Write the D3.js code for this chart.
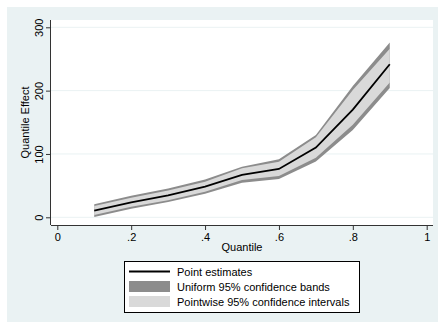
<!DOCTYPE html>
<html><head><meta charset="utf-8">
<script src="https://cdn.jsdelivr.net/npm/d3@7"></script>
<style>html,body{margin:0;padding:0;background:#fff;}svg{display:block;}</style>
</head><body>
<svg id="c" width="438" height="322"></svg>
<script>
const quantiles = [0.1, 0.2, 0.3, 0.4, 0.5, 0.6, 0.7, 0.8, 0.9];
const pointEstimates = [10.4, 23.7, 34.7, 48.3, 67, 76.3, 110, 170, 241.7];
const pointwiseLower = [3.6, 16.5, 27, 40.5, 58.9, 65.2, 94, 146, 213];
const pointwiseUpper = [17.9, 31, 42.5, 56.3, 77.4, 87.8, 126.5, 201, 266];
const uniformLower = [0.5, 13.5, 24, 37, 54.7, 60.5, 88, 138, 204];
const uniformUpper = [20.5, 34, 45.5, 59.5, 80, 91.6, 130, 207.5, 276];
const xTicks = [0, 0.2, 0.4, 0.6, 0.8, 1];
const xTickLabels = ["0", ".2", ".4", ".6", ".8", "1"];
const yTicks = [0, 100, 200, 300];
const legendLabels = ["Point estimates", "Uniform 95% confidence bands", "Pointwise 95% confidence intervals"];

const svg = d3.select("#c");
const font = "Liberation Sans, Arial, sans-serif";
const bg = "#eaf2f3", dark = "#8c8c8c", light = "#d9d9d9";

// graph region
svg.append("rect").attr("x", 7).attr("y", 7).attr("width", 431).attr("height", 315).attr("fill", bg);
// plot region
const pl = 51, pr = 433, pt = 20, pb = 225;
svg.append("rect").attr("x", pl).attr("y", pt).attr("width", pr - pl).attr("height", pb - pt).attr("fill", "#fff");

const x = d3.scaleLinear().domain([0, 1]).range([57.3, 426.7]);
const y = d3.scaleLinear().domain([0, 300]).range([217.3, 27.3]);

// gridlines
svg.append("g").selectAll("line").data(yTicks).join("line")
  .attr("x1", pl).attr("x2", pr).attr("y1", d => y(d)).attr("y2", d => y(d))
  .attr("stroke", bg).attr("stroke-width", 1);

const rows = quantiles.map((q, i) => ({q, est: pointEstimates[i], pl: pointwiseLower[i], pu: pointwiseUpper[i], ul: uniformLower[i], uu: uniformUpper[i]}));

svg.append("path").datum(rows)
  .attr("d", d3.area().x(d => x(d.q)).y0(d => y(d.ul)).y1(d => y(d.uu)))
  .attr("fill", dark);
svg.append("path").datum(rows)
  .attr("d", d3.area().x(d => x(d.q)).y0(d => y(d.pl)).y1(d => y(d.pu)))
  .attr("fill", light);
svg.append("path").datum(rows)
  .attr("d", d3.line().x(d => x(d.q)).y(d => y(d.est)))
  .attr("fill", "none").attr("stroke", "#000").attr("stroke-width", 1.8);

// axes
const xAxis = svg.append("g").attr("transform", `translate(0,${pb})`)
  .call(d3.axisBottom(x).tickValues(xTicks).tickFormat((d, i) => xTickLabels[i]).tickSize(5).tickPadding(3).tickSizeOuter(0));
xAxis.select(".domain").attr("d", `M${pl},0.5H${pr}`);
const yAxis = svg.append("g").attr("transform", `translate(${pl},0)`)
  .call(d3.axisLeft(y).tickValues(yTicks).tickSize(5).tickSizeOuter(0));
yAxis.select(".domain").attr("d", `M-0.5,${pt}V${pb}`);
[xAxis, yAxis].forEach(a => {
  a.selectAll(".domain,line").attr("stroke", "#333");
  a.selectAll("text").attr("fill", "#000").style("font-family", font).style("font-size", "11px");
});
yAxis.selectAll(".tick text").attr("x", null).attr("dy", null)
  .attr("text-anchor", "middle").attr("transform", "translate(-8,0) rotate(-90)");

svg.append("text").attr("x", (57.3 + 426.7) / 2).attr("y", 251).attr("text-anchor", "middle")
  .style("font-family", font).style("font-size", "11px").text("Quantile");
svg.append("text").attr("transform", `translate(29,${(pt + pb) / 2}) rotate(-90)`).attr("text-anchor", "middle")
  .style("font-family", font).style("font-size", "11px").text("Quantile Effect");

// legend
const lg = svg.append("g");
lg.append("rect").attr("x", 124.5).attr("y", 261.5).attr("width", 235).attr("height", 51)
  .attr("fill", "#fff").attr("stroke", "#000").attr("stroke-width", 1);
const rowY = [271.5, 286.5, 301.5];
lg.append("line").attr("x1", 129).attr("x2", 170).attr("y1", rowY[0]).attr("y2", rowY[0]).attr("stroke", "#000").attr("stroke-width", 1.8);
lg.append("rect").attr("x", 129).attr("y", rowY[1] - 5.5).attr("width", 41).attr("height", 11).attr("fill", dark);
lg.append("rect").attr("x", 129).attr("y", rowY[2] - 5.5).attr("width", 41).attr("height", 11).attr("fill", light);
lg.selectAll("text.l").data(legendLabels).join("text").attr("class", "l")
  .attr("x", 177).attr("y", (d, i) => rowY[i] + 4)
  .style("font-family", font).style("font-size", "11px").text(d => d);
</script>
</body></html>
